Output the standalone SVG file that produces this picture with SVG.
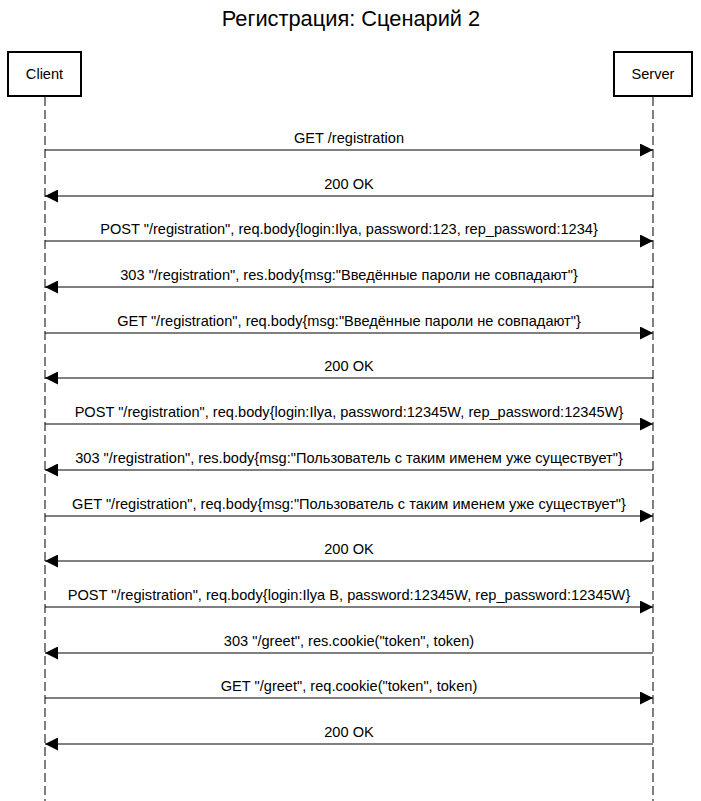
<svg xmlns="http://www.w3.org/2000/svg" width="701" height="801" viewBox="0 0 701 801">
<defs>
<style>
text{font-family:"Liberation Sans",Arial,sans-serif;fill:#000}
.t{font-size:21.8px;text-anchor:middle}
.lbl{font-size:14.6px;text-anchor:middle}
.box{fill:#fff;stroke:#000;stroke-width:2}
.life{stroke:#000;stroke-width:1;stroke-dasharray:9 4;fill:none}
.msg{stroke:#000;stroke-width:1;fill:none}
</style>
<marker id="ah" markerWidth="13" markerHeight="13" refX="13" refY="6.5" orient="auto" markerUnits="userSpaceOnUse">
<path d="M0,0 L13,6.5 L0,13 Z" fill="#000"/>
</marker>
</defs>
<rect width="701" height="801" fill="#fff"/>
<text class="t" x="351" y="26">Регистрация: Сценарий 2</text>
<g id="client">
<line class="life" x1="45" y1="97" x2="45" y2="801"/>
<rect class="box" x="8" y="52" width="73" height="44"/>
<text class="lbl" x="44.5" y="79">Client</text>
</g>
<g id="server">
<line class="life" x1="653" y1="97" x2="653" y2="801"/>
<rect class="box" x="614" y="52" width="78" height="44"/>
<text class="lbl" x="653" y="79">Server</text>
</g>
<g id="connectors">
<line class="msg" x1="45" y1="150" x2="653" y2="150" marker-end="url(#ah)"/>
<text class="lbl" x="349" y="143">GET /registration</text>
<line class="msg" x1="653" y1="196" x2="45" y2="196" marker-end="url(#ah)"/>
<text class="lbl" x="349" y="189">200 OK</text>
<line class="msg" x1="45" y1="241" x2="653" y2="241" marker-end="url(#ah)"/>
<text class="lbl" x="349" y="234">POST "/registration", req.body{login:Ilya, password:123, rep_password:1234}</text>
<line class="msg" x1="653" y1="287" x2="45" y2="287" marker-end="url(#ah)"/>
<text class="lbl" x="349" y="280">303 "/registration", res.body{msg:"Введённые пароли не совпадают"}</text>
<line class="msg" x1="45" y1="333" x2="653" y2="333" marker-end="url(#ah)"/>
<text class="lbl" x="349" y="326">GET "/registration", req.body{msg:"Введённые пароли не совпадают"}</text>
<line class="msg" x1="653" y1="378" x2="45" y2="378" marker-end="url(#ah)"/>
<text class="lbl" x="349" y="371">200 OK</text>
<line class="msg" x1="45" y1="424" x2="653" y2="424" marker-end="url(#ah)"/>
<text class="lbl" x="349" y="417">POST "/registration", req.body{login:Ilya, password:12345W, rep_password:12345W}</text>
<line class="msg" x1="653" y1="470" x2="45" y2="470" marker-end="url(#ah)"/>
<text class="lbl" x="349" y="463">303 "/registration", res.body{msg:"Пользователь с таким именем уже существует"}</text>
<line class="msg" x1="45" y1="516" x2="653" y2="516" marker-end="url(#ah)"/>
<text class="lbl" x="349" y="509">GET "/registration", req.body{msg:"Пользователь с таким именем уже существует"}</text>
<line class="msg" x1="653" y1="561" x2="45" y2="561" marker-end="url(#ah)"/>
<text class="lbl" x="349" y="554">200 OK</text>
<line class="msg" x1="45" y1="607" x2="653" y2="607" marker-end="url(#ah)"/>
<text class="lbl" x="349" y="600">POST "/registration", req.body{login:Ilya B, password:12345W, rep_password:12345W}</text>
<line class="msg" x1="653" y1="653" x2="45" y2="653" marker-end="url(#ah)"/>
<text class="lbl" x="349" y="646">303 "/greet", res.cookie("token", token)</text>
<line class="msg" x1="45" y1="698" x2="653" y2="698" marker-end="url(#ah)"/>
<text class="lbl" x="349" y="691">GET "/greet", req.cookie("token", token)</text>
<line class="msg" x1="653" y1="744" x2="45" y2="744" marker-end="url(#ah)"/>
<text class="lbl" x="349" y="737">200 OK</text>
</g>
</svg>
